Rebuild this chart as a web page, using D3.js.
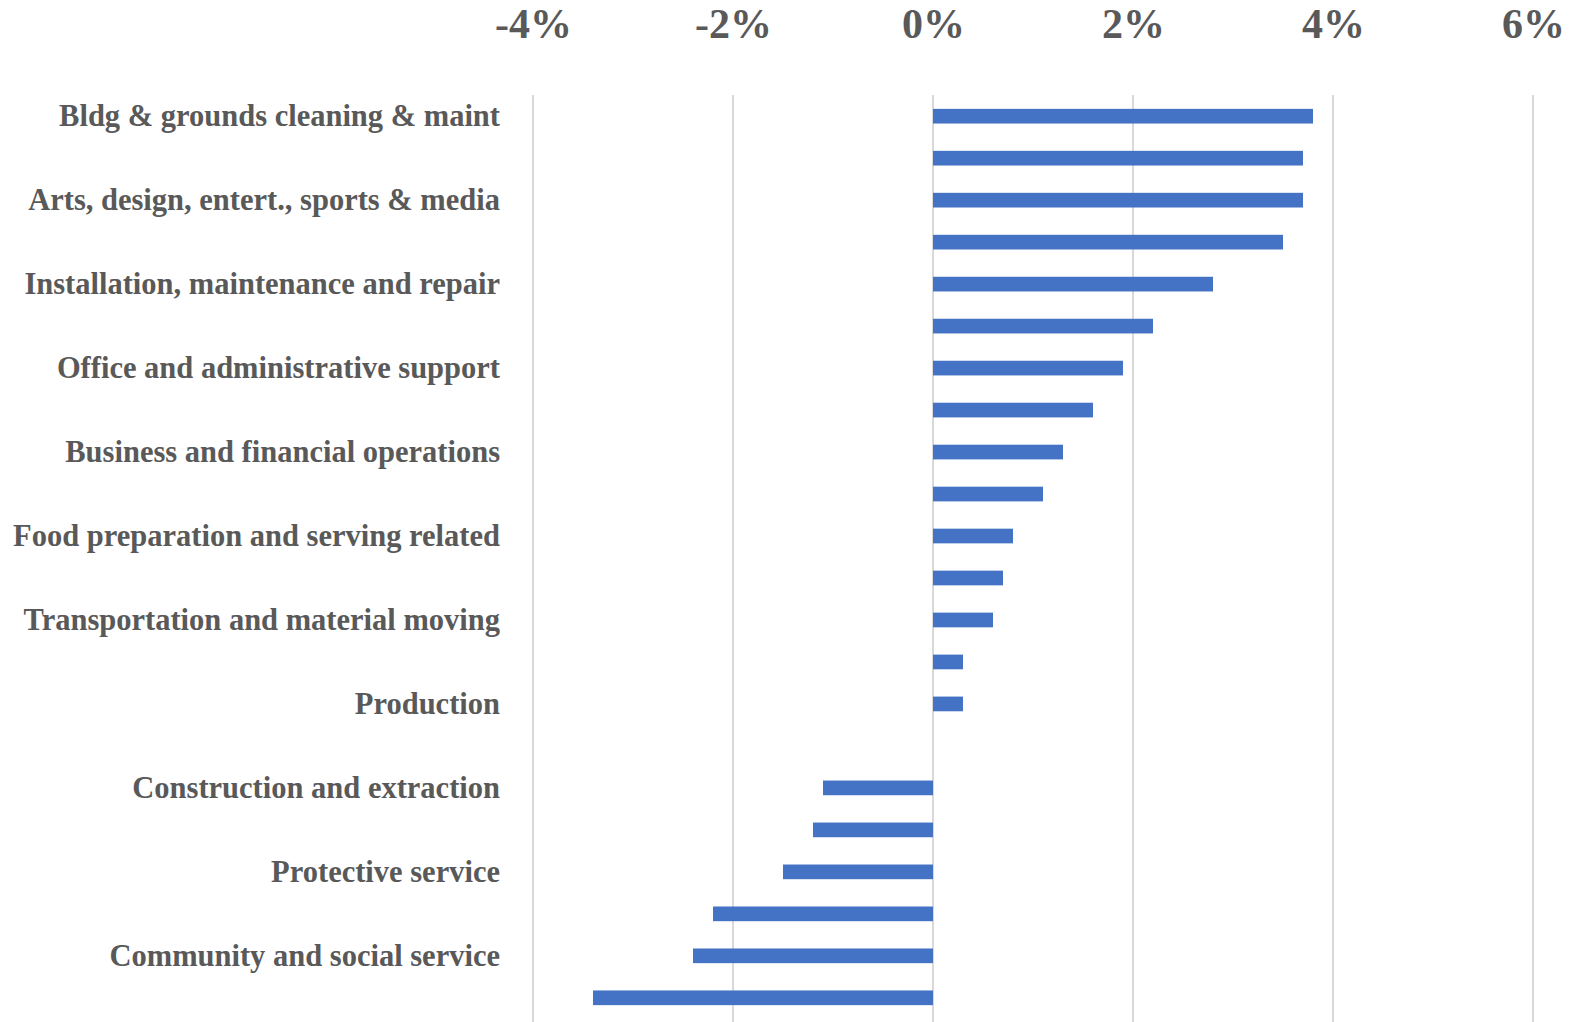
<!DOCTYPE html>
<html>
<head>
<meta charset="utf-8">
<script src="https://cdn.jsdelivr.net/npm/d3@7"></script>
<style>
  html, body { margin: 0; padding: 0; background: #fff; overflow: hidden; }
  svg { display: block; }
</style>
</head>
<body>
<div id="chart"></div>
<script>
// occupation groups, top to bottom; only every other one gets a label (as in the source)
const categories = [
  'Bldg & grounds cleaning & maint',
  'Personal care and service',
  'Arts, design, entert., sports & media',
  'Healthcare support',
  'Installation, maintenance and repair',
  'Sales and related',
  'Office and administrative support',
  'Computer and mathematical',
  'Business and financial operations',
  'Management',
  'Food preparation and serving related',
  'Healthcare practitioners and technical',
  'Transportation and material moving',
  'Architecture and engineering',
  'Production',
  'Farming, fishing and forestry',
  'Construction and extraction',
  'Legal',
  'Protective service',
  'Life, physical and social science',
  'Community and social service',
  'Education, training and library'
];
const values = [
  3.8, 3.7, 3.7, 3.5, 2.8, 2.2, 1.9, 1.6, 1.3, 1.1, 0.8,
  0.7, 0.6, 0.3, 0.3, 0.0, -1.1, -1.2, -1.5, -2.2, -2.4, -3.4
];
const xTicks = [-4, -2, 0, 2, 4, 6];

const width = 1578, height = 1022;
const margin = { top: 95, right: 45, bottom: 0, left: 533 };

const svg = d3.select('#chart').append('svg')
  .attr('width', width)
  .attr('height', height)
  .attr('viewBox', [0, 0, width, height]);

const x = d3.scaleLinear()
  .domain([-4, 6])
  .range([margin.left, width - margin.right]);

const y = d3.scaleBand()
  .domain(categories)
  .range([95, 1019])
  .paddingInner(0.65)
  .paddingOuter(0.33);

const font = '"Liberation Serif", "DejaVu Serif", serif';

// gridlines
svg.append('g')
  .selectAll('line')
  .data(xTicks)
  .join('line')
  .attr('x1', d => x(d))
  .attr('x2', d => x(d))
  .attr('y1', margin.top)
  .attr('y2', height)
  .attr('stroke', '#d9d9d9')
  .attr('stroke-width', 2);

// top axis labels
const xAxis = d3.axisTop(x)
  .tickValues(xTicks)
  .tickFormat(d => d + '%')
  .tickSize(0)
  .tickPadding(0);

svg.append('g')
  .attr('transform', 'translate(0,38)')
  .call(xAxis)
  .call(g => g.select('.domain').remove())
  .call(g => g.selectAll('text')
    .attr('dy', 0)
    .attr('fill', '#595959')
    .style('font-family', font)
    .style('font-weight', 'bold')
    .style('font-size', '42px'));

// bars
svg.append('g')
  .selectAll('rect')
  .data(values)
  .join('rect')
  .attr('x', d => x(Math.min(0, d)))
  .attr('y', (d, i) => y(categories[i]))
  .attr('width', d => Math.abs(x(d) - x(0)))
  .attr('height', y.bandwidth())
  .attr('fill', '#4472c4');

// category labels, every second one
const yAxis = d3.axisLeft(y)
  .tickValues(categories.filter((c, i) => i % 2 === 0))
  .tickSize(0)
  .tickPadding(0);

svg.append('g')
  .attr('transform', 'translate(500,0)')
  .call(yAxis)
  .call(g => g.select('.domain').remove())
  .call(g => g.selectAll('text')
    .attr('dy', '0.32em')
    .attr('fill', '#595959')
    .style('font-family', font)
    .style('font-weight', 'bold')
    .style('font-size', '30.5px'));
</script>
</body>
</html>
